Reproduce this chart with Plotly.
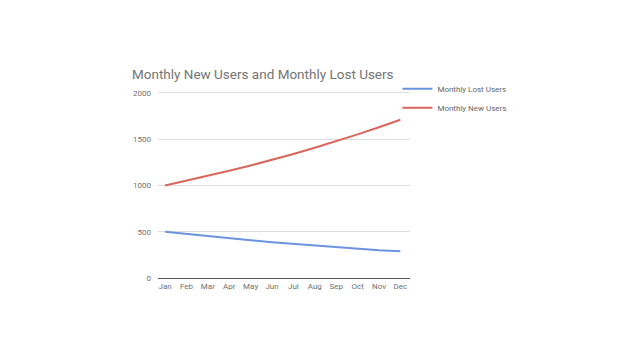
import plotly.graph_objects as go

months = ["Jan", "Feb", "Mar", "Apr", "May", "Jun", "Jul", "Aug", "Sep", "Oct", "Nov", "Dec"]
lost_users = [500, 475, 451, 429, 407, 387, 368, 349, 332, 315, 299, 290]
new_users = [1000, 1050, 1102, 1158, 1215, 1276, 1340, 1407, 1478, 1551, 1629, 1710]

fig = go.Figure()
fig.add_trace(go.Scatter(x=months, y=lost_users, mode="lines", name="Monthly Lost Users",
                         line=dict(color="#6a93e0", width=2)))
fig.add_trace(go.Scatter(x=months, y=new_users, mode="lines", name="Monthly New Users",
                         line=dict(color="#d9655c", width=2)))

fig.update_layout(
    width=630, height=351,
    margin=dict(l=150, r=228, t=83, b=81),
    paper_bgcolor="white", plot_bgcolor="white",
    font=dict(family="Roboto", color="#757575", size=8),
    title=dict(text="Monthly New Users and Monthly Lost Users", x=124/630, xanchor="left",
               y=1-66/351, yanchor="middle", font=dict(size=13.5, color="#757575", family="Roboto")),
    showlegend=True,
    legend=dict(x=0.95, y=1.09, xanchor="left", yanchor="top", font=dict(size=8, color="#666666"),
                itemwidth=30, tracegroupgap=0, bgcolor="rgba(0,0,0,0)"),
    xaxis=dict(type="category", range=[-0.33, 11.45], showgrid=False, showline=True,
               linecolor="#555555", linewidth=1, ticks="", tickfont=dict(size=8, color="#707070"),
               fixedrange=True),
    yaxis=dict(range=[0, 2020], tickvals=[0, 500, 1000, 1500, 2000], showgrid=True,
               gridcolor="#dddddd", gridwidth=1, zeroline=False, showline=False,
               tickfont=dict(size=8, color="#707070"), ticklabelstandoff=6, fixedrange=True),
)

fig.write_html("out.html")
